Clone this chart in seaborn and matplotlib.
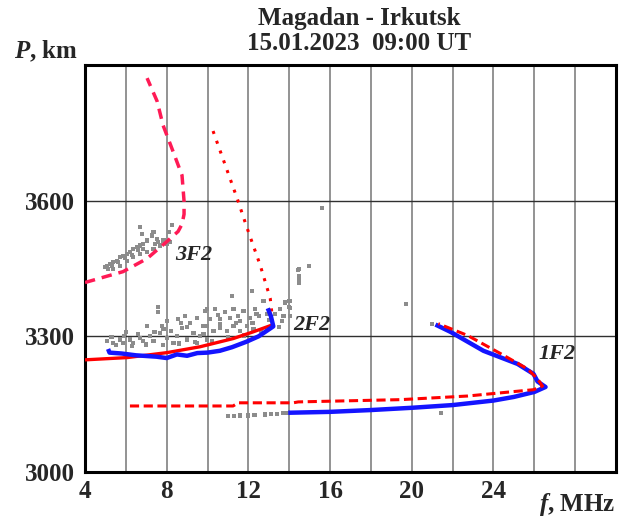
import matplotlib
matplotlib.use("Agg")
import matplotlib.pyplot as plt
import seaborn as sns
import numpy as np

# ---------------- data ----------------
# 3F2 model curve (red dashed)
f_3f2 = [4.0, 5.0, 5.86, 7.04, 8.02, 8.56, 8.75, 8.85, 8.85, 8.75, 8.31, 7.82, 7.53, 7.04]
p_3f2 = [3419, 3432, 3443, 3472, 3510, 3532, 3548, 3570, 3599, 3656, 3709, 3767, 3820, 3871]

# 2F2 model: upper ray (red dotted) and lower ray (red solid)
f_2f2_up = [10.27, 11.45, 11.94, 12.58, 13.07, 13.17]
p_2f2_up = [3754, 3605, 3539, 3457, 3384, 3344]
f_2f2_lo = [4.0, 6.06, 8.02, 9.64, 11.25, 12.24, 13.22]
p_2f2_lo = [3248, 3253, 3264, 3277, 3295, 3310, 3326]

# 2F2 measured (blue)
f_2f2_obs = [5.13, 5.2, 5.8, 6.5, 7.5, 8.0, 8.5, 9.0, 9.5, 10.0, 10.6, 11.2, 11.9,
             12.5, 13.22, 13.10, 12.95]
p_2f2_obs = [3272, 3264, 3262, 3258, 3255, 3252, 3260, 3257, 3263, 3264, 3268, 3276,
             3288, 3300, 3322, 3345, 3362]

# 1F2 model (red dashed): lower ray then upper ray
f_1f2_mod = [6.2, 11.25, 11.5, 14.2, 14.44, 19.44, 22.73, 24.34, 25.96, 26.4,
             26.16, 25.67, 24.34, 22.73, 21.3]
p_1f2_mod = [3146, 3146, 3153, 3153, 3155, 3160, 3168, 3175, 3182, 3190,
             3206, 3228, 3262, 3302, 3328]

# 1F2 measured (blue)
f_1f2_obs = [13.95, 16.0, 18.0, 20.0, 22.0, 24.0, 25.0, 26.0, 26.55,
             26.16, 25.96, 25.18, 23.51, 21.89, 21.16]
p_1f2_obs = [3131, 3133, 3137, 3142, 3148, 3158, 3166, 3177, 3188,
             3200, 3217, 3239, 3268, 3310, 3326]

# oblique sounding points (gray)
f_pts = [6.70, 6.78, 7.35, 7.27, 7.51, 7.02, 6.86, 6.70, 6.53, 6.37, 6.21, 6.04, 5.88,
         5.72, 5.55, 5.39, 5.23, 5.06, 4.98, 5.14, 5.39, 5.72, 6.04, 6.37, 6.70, 7.02,
         7.35, 7.68, 8.00, 8.17, 7.59, 7.84, 7.43, 6.61, 6.29, 5.96, 5.63, 5.31, 6.86,
         8.25, 8.10,
         7.59, 7.59, 7.02, 7.76, 8.00, 7.84, 7.68, 7.19, 6.70, 6.21, 5.72, 5.39, 5.06,
         5.88, 6.37, 6.86, 7.35, 8.00, 8.49, 8.57, 8.90, 8.74, 9.15, 9.31, 8.98, 9.64,
         9.80, 9.96, 9.96, 9.47, 8.33,
         5.5, 5.9, 6.3, 6.6, 7.0, 7.4, 7.8, 8.2, 8.6, 9.0, 9.4, 9.8, 10.2, 10.6, 11.0,
         11.4, 11.8, 12.2, 12.6, 13.0, 12.4, 11.5, 10.5, 9.5, 8.7, 6.0, 5.3, 13.3, 13.5,
         11.19, 12.17, 12.74, 12.33, 11.76, 11.27, 10.86, 10.37, 9.88, 10.13, 10.62,
         11.10, 11.60, 12.09, 12.50, 12.90, 11.92, 11.27, 10.62, 9.96, 10.29, 10.94,
         11.60, 12.25, 13.56, 13.80, 14.05, 13.97, 13.72, 14.05, 13.64, 14.46, 14.46,
         14.46, 14.95, 14.44, 14.49, 14.0, 14.05, 15.62,
         19.70, 21.45, 21.0,
         11.0, 11.3, 11.6, 12.0, 12.3, 12.8, 13.1, 13.4, 13.7, 13.9]
p_pts = [3541, 3527, 3530, 3523, 3516, 3512, 3504, 3501, 3497, 3493, 3486, 3482, 3478,
         3475, 3467, 3464, 3460, 3456, 3453, 3449, 3449, 3456, 3467, 3475, 3482, 3486,
         3493, 3501, 3504, 3508, 3508, 3512, 3504, 3490, 3480, 3473, 3464, 3455, 3493,
         3547, 3530,
         3364, 3353, 3323, 3323, 3334, 3316, 3308, 3301, 3297, 3293, 3293, 3286, 3290,
         3286, 3286, 3290, 3290, 3297, 3301, 3338, 3345, 3319, 3330, 3308, 3293, 3301,
         3323, 3360, 3293, 3286, 3286,
         3280, 3300, 3278, 3305, 3282, 3310, 3280, 3312, 3284, 3320, 3288, 3305, 3290,
         3326, 3298, 3330, 3302, 3330, 3312, 3336, 3350, 3345, 3348, 3340, 3330, 3310,
         3298, 3350, 3320,
         3390, 3401, 3378, 3360, 3356, 3360, 3353, 3360, 3356, 3338, 3338,
         3341, 3334, 3341, 3345, 3349, 3323, 3323, 3319, 3323, 3312, 3312,
         3312, 3316, 3360, 3375, 3378, 3364, 3345, 3345, 3334, 3449, 3430,
         3419, 3456, 3447, 3433, 3378, 3362, 3584,
         3371, 3131, 3328,
         3124, 3124, 3125, 3125, 3126, 3127, 3128, 3129, 3130, 3130]

mode_labels = ["3F2", "2F2", "1F2"]
label_f = [8.4, 14.2, 26.2]
label_p = [3480, 3324, 3262]

x_ticks = [4, 8, 12, 16, 20, 24]
y_ticks = [3000, 3300, 3600]

# ---------------- style ----------------
sns.set_theme(style="white")
plt.rcParams["font.family"] = ["Liberation Serif", "DejaVu Serif"]
plt.rcParams["font.weight"] = "bold"
plt.rcParams["mathtext.fontset"] = "custom"
plt.rcParams["mathtext.it"] = "Liberation Serif:italic:bold"
plt.rcParams["mathtext.rm"] = "Liberation Serif:bold"

fig = plt.figure(figsize=(6.26, 5.22), dpi=100)
ax = fig.add_axes([85 / 626, 1 - 472 / 522, (616 - 85) / 626, (472 - 65) / 522])

ax.set_xlim(4, 30)
ax.set_ylim(3000, 3900)

# grid
for xv in np.arange(6, 30, 2):
    ax.axvline(xv, color="#8a8a8a", lw=1.3, zorder=0)
for yv in [3300, 3600]:
    ax.axhline(yv, color="#303030", lw=1.0, zorder=0)

# gray points
sns.scatterplot(x=f_pts, y=p_pts, ax=ax, color="#8c8c8c", marker="s", s=9,
                edgecolor="none", zorder=2, legend=False)

red = "#ff0000"
pink = "#ff1a55"
blue = "#1414ff"


def curve(fx, py, color, lw, dashes=None, z=3):
    n0 = len(ax.lines)
    sns.lineplot(x=fx, y=py, sort=False, estimator=None, errorbar=None, ax=ax,
                 color=color, lw=lw, zorder=z, legend=False)
    ln = ax.lines[n0]
    if dashes is not None:
        ln.set_dashes(dashes)
    ln.set_solid_capstyle("butt")
    return ln


curve(f_3f2, p_3f2, pink, 2.5, [3, 2])
curve(f_2f2_up, p_2f2_up, red, 2.2, [1, 2.4])
curve(f_2f2_lo, p_2f2_lo, red, 2.4)
curve(f_2f2_obs, p_2f2_obs, blue, 3.2, z=4)
curve(f_1f2_obs, p_1f2_obs, blue, 3.2, z=4)
curve(f_1f2_mod, p_1f2_mod, red, 2.2, [3, 1.5], z=5)

for t, xv, yv in zip(mode_labels, label_f, label_p):
    ax.text(xv, yv, t, fontsize=16, fontstyle="italic", fontweight="bold",
            ha="left", va="center", zorder=6)

ax.set_xticks(x_ticks)
ax.set_yticks(y_ticks)
ax.set_xticklabels([str(v) for v in x_ticks], fontsize=18, fontweight="bold")
ax.set_yticklabels([str(v) for v in y_ticks], fontsize=18, fontweight="bold")
ax.tick_params(axis="x", length=0, pad=6)
ax.tick_params(axis="y", length=0, pad=7)
ax.set_xlabel("")
ax.set_ylabel("")

for s in ax.spines.values():
    s.set_visible(True)
    s.set_color("black")
    s.set_linewidth(2.2)

fig.text(359 / 626, 1 - 18 / 522, "Magadan - Irkutsk", ha="center", va="center",
         fontsize=18, fontweight="bold")
fig.text(359 / 626, 1 - 43 / 522, "15.01.2023  09:00 UT", ha="center", va="center",
         fontsize=18, fontweight="bold")
fig.text(14 / 626, 1 - 51 / 522, r"$P$, km", ha="left", va="center",
         fontsize=18, fontweight="bold")
fig.text(615 / 626, 1 - 505 / 522, r"$f$, MHz", ha="right", va="center",
         fontsize=18, fontweight="bold")

fig.savefig("out.png", dpi=100)
